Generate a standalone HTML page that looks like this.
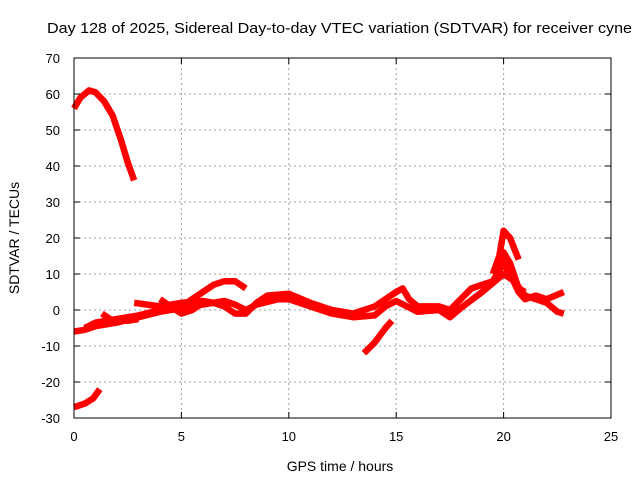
<!DOCTYPE html>
<html><head><meta charset="utf-8"><style>
body{margin:0;background:#fff;}
svg{display:block;font-family:"Liberation Sans",sans-serif;}
</style></head><body>
<svg id="chart" width="640" height="480">
<text x="47" y="33" font-size="15" textLength="585" lengthAdjust="spacingAndGlyphs">Day 128 of 2025, Sidereal Day-to-day VTEC variation (SDTVAR) for receiver cyne</text>
<text x="340" y="471" font-size="14" text-anchor="middle">GPS time / hours</text>
<text transform="translate(19,238) rotate(-90)" font-size="14" text-anchor="middle">SDTVAR / TECUs</text>
<g id="grid"></g><g id="series"></g><g id="axes"></g>
</svg>
<script>
const xTicks=[0,5,10,15,20,25];
const yTicks=[-30,-20,-10,0,10,20,30,40,50,60,70];
const s1=[[0,56],[0.3,59],[0.7,61],[1.0,60.5],[1.4,58],[1.8,54],[2.2,47],[2.5,41],[2.8,36]];
const s2=[[0,-27],[0.5,-26],[0.9,-24.5],[1.2,-22]];
const s3=[[0,-6],[0.5,-5.5],[1,-4.5],[2,-3.5],[3,-2],[4,-0.5],[5,0.5],[6,1.5],[7,2.5],[7.5,1.5],[8,0],[8.5,1.5],[9.5,3],[10,3],[10.5,2],[11,1],[12,-1],[13,-2],[14,-1.5],[14.5,1],[15,2.5],[15.5,1],[16,-0.5],[17,0],[17.5,-2],[18,0.5],[19,5],[20,10],[20.5,8],[21,4],[21.5,3],[22,2],[22.5,-0.5],[22.8,-1]];
const s4=[[0.5,-5],[1,-3.5],[2,-2.5],[3,-1.5],[4,0],[5,1],[5.5,3],[6,5],[6.5,7],[7,8],[7.5,8],[8,6]];
const s5=[[1.3,-1],[1.8,-3],[2.5,-3],[3,-2.5]];
const s6=[[2.8,2],[4,1],[5,2],[6,2.5],[6.5,2],[7,1],[7.5,-1],[8,-1],[8.5,2],[9,4],[10,4.5],[11,2],[12,0],[13,-1],[14,1],[15,5],[15.3,6],[15.6,3],[16,1],[17,1],[17.5,0],[18,3],[18.5,6],[19.5,8],[20,13],[20.3,10],[20.7,5],[21,3],[21.5,4],[22,3],[22.8,5]];
const s7=[[19.5,10],[19.8,15],[20,22],[20.3,20],[20.7,14]];
const s8=[[19.7,10],[20,16],[20.3,13],[20.7,6],[21,5]];
const s9=[[13.5,-12],[14,-9],[14.5,-5],[14.8,-3]];
const s10=[[4,3],[4.5,1],[5,-1],[5.5,0],[6,2]];
const allSeries=[s1,s2,s3,s4,s5,s6,s7,s8,s9,s10];
const X0=74,X1=611,Y0=418,Y1=58;
const sx=v=>X0+(v-0)/25*(X1-X0);
const sy=v=>Y0-(v+30)/100*(Y0-Y1);
const NS="http://www.w3.org/2000/svg";
const grid=document.getElementById('grid'),axes=document.getElementById('axes'),ser=document.getElementById('series');
function mk(t,a,p){const e=document.createElementNS(NS,t);for(const k in a)e.setAttribute(k,a[k]);p.appendChild(e);return e;}
xTicks.forEach(t=>{
 const x=sx(t);
 if(t>0&&t<25){const g=mk('line',{x1:x,x2:x,y1:Y1,y2:Y0,stroke:'#a0a0a0','stroke-dasharray':'2,3'},grid);
 
 }
 mk('line',{x1:x,x2:x,y1:Y0,y2:Y0-6,stroke:'#000'},axes);mk('line',{x1:x,x2:x,y1:Y1,y2:Y1+6,stroke:'#000'},axes);
 const l=mk('text',{x:x,y:Y0+23,'font-size':13,'text-anchor':'middle'},axes);l.textContent=t;
 
 
});
yTicks.forEach(t=>{
 const y=sy(t);
 if(t>-30&&t<70){const g=mk('line',{x1:X0,x2:X1,y1:y,y2:y,stroke:'#a0a0a0','stroke-dasharray':'2,3'},grid);
 
 }
 mk('line',{x1:X0,x2:X0+6,y1:y,y2:y,stroke:'#000'},axes);mk('line',{x1:X1,x2:X1-6,y1:y,y2:y,stroke:'#000'},axes);
 const l=mk('text',{x:X0-14,y:y+5,'font-size':13,'text-anchor':'end'},axes);l.textContent=t;
 
 
});
const fr=mk('rect',{x:X0,y:Y1,width:X1-X0,height:Y0-Y1,fill:'none',stroke:'#000'},axes);


allSeries.forEach((s,i)=>{
 const p=mk('polyline',{points:s.map(d=>sx(d[0])+','+sy(d[1])).join(' '),fill:'none',stroke:'#ff0000','stroke-width':6.5,'stroke-linejoin':'round'},ser);
 
 
});
</script>
</body></html>
